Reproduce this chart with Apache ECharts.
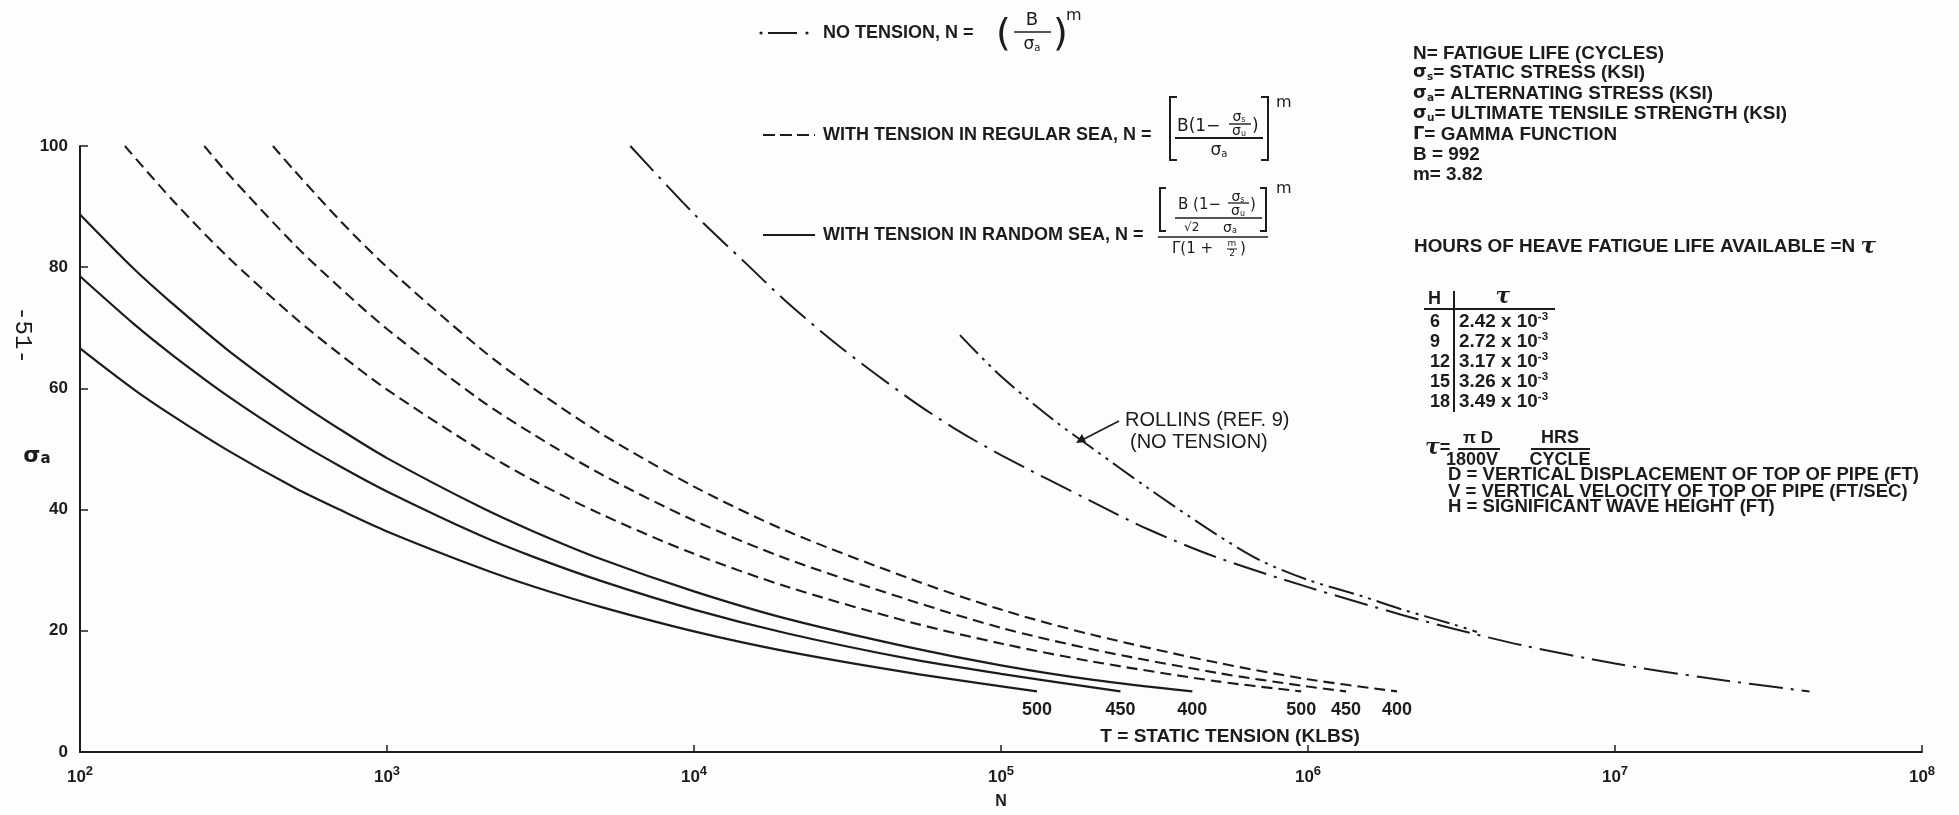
<!DOCTYPE html>
<html>
<head>
<meta charset="utf-8">
<script src="https://cdn.jsdelivr.net/npm/echarts@6/dist/echarts.min.js"></script>
<style>
html,body{margin:0;padding:0;background:#fdfdfb;}
#chart{width:1959px;height:815px;}
</style>
</head>
<body>
<div id="chart"></div>
<script>
// Heave fatigue life: alternating stress σa (ksi) against cycles to failure N.

// axis ticks
const xTickExponents = [2, 3, 4, 5, 6, 7, 8];
const yTicks = [0, 20, 40, 60, 80, 100];

// with tension in random sea (solid), static tension 400 / 450 / 500 klbs — [N, σa]
const randomSea400 = [[100,88.7],[150,79.7],[200,74.0],[300,66.5],[500,58.2],[700,53.3],[1000,48.5],[2000,40.5],[3000,36.4],[5000,31.8],[10000,26.5],[20000,22.0],[50000,17.3],[100000,14.3],[200000,11.9],[420000,10.0]];
const randomSea450 = [[100,78.5],[150,70.6],[200,65.5],[300,58.9],[500,51.5],[700,47.2],[1000,43.0],[2000,35.8],[3000,32.2],[5000,28.2],[10000,23.5],[20000,19.6],[50000,15.4],[100000,12.9],[245000,10.0]];
const randomSea500 = [[100,66.6],[150,59.8],[200,55.5],[300,49.9],[500,43.6],[700,40.0],[1000,36.4],[2000,30.4],[3000,27.3],[5000,23.9],[10000,19.9],[20000,16.6],[50000,13.1],[131000,10.0]];

// with tension in regular sea (dashed)
const regularSea400 = [[425,100],[500,95.9],[700,87.8],[1000,80.0],[2000,66.7],[3000,60.0],[5000,52.5],[10000,43.8],[20000,36.5],[50000,28.7],[100000,23.5],[200000,19.3],[500000,14.8],[1000000,12.0],[1950000,10.0]];
const regularSea450 = [[254,100],[300,95.7],[500,83.7],[700,76.7],[1000,69.8],[2000,58.2],[3000,52.4],[5000,45.8],[10000,38.2],[20000,31.9],[50000,25.1],[100000,20.5],[200000,16.9],[500000,13.1],[1000000,10.8],[1330000,10.0]];
const regularSea500 = [[140,100],[200,91.1],[300,81.9],[500,71.7],[700,65.7],[1000,59.8],[2000,49.9],[3000,44.8],[5000,39.2],[10000,32.7],[20000,27.3],[50000,21.5],[100000,17.9],[200000,14.9],[500000,11.7],[950000,10.0]];

// no tension (dash-dot) and Rollins, ref. 9 (dash-dot-dot)
const noTension = [[6200,100],[10000,88.8],[15000,80.3],[20000,74.3],[30000,66.8],[50000,58.4],[70000,53.5],[100000,49.0],[200000,41.2],[300000,36.8],[500000,32.2],[1000000,27.2],[2000000,22.7],[3000000,20.3],[5000000,17.6],[10000000,14.6],[20000000,12.2],[43000000,10.0]];
const rollins = [[73500,68.8],[100000,62.0],[150000,54.6],[200000,50.0],[300000,43.6],[500000,36.0],[700000,31.6],[1000000,28.4],[1500000,25.7],[2000000,23.6],[3000000,21.0],[3550000,19.8]];

// right-hand table
const waveHeights = ['6', '9', '12', '15', '18'];
const tauValues = ['2.42', '2.72', '3.17', '3.26', '3.49'];

const INK = '#1c1c1c';
const SANS = '"Liberation Sans", Arial, sans-serif';
const MATH = '"DejaVu Sans", sans-serif';

const solidStyle = { color: INK, width: 2.2, type: 'solid' };
const dashStyle = { color: INK, width: 2.1, type: [11, 6] };
const dashDotStyle = { color: INK, width: 2, type: [34, 8, 3, 8] };
const dashDotDotStyle = { color: INK, width: 2, type: [26, 6, 3, 6, 3, 6] };

const curves = [
  { name: 'Random sea 400', data: randomSea400, line: solidStyle, tension: '400' },
  { name: 'Random sea 450', data: randomSea450, line: solidStyle, tension: '450' },
  { name: 'Random sea 500', data: randomSea500, line: solidStyle, tension: '500' },
  { name: 'Regular sea 400', data: regularSea400, line: dashStyle, tension: '400' },
  { name: 'Regular sea 450', data: regularSea450, line: dashStyle, tension: '450' },
  { name: 'Regular sea 500', data: regularSea500, line: dashStyle, tension: '500' },
  { name: 'No tension', data: noTension, line: dashDotStyle },
  { name: 'Rollins', data: rollins, line: dashDotDotStyle }
];

const lineSeries = curves.map(c => ({
  name: c.name,
  type: 'line',
  data: c.data,
  smooth: 0.3,
  showSymbol: false,
  symbol: 'none',
  lineStyle: Object.assign({ cap: 'butt' }, c.line),
  emphasis: { disabled: true },
  z: 3
}));

// ---- drawing helpers for the annotation graphics ----
function txt(x, y, str, font, extra, sx) {
  const el = {
    type: 'text', x: x, y: y, silent: true, z: 10,
    style: Object.assign({ text: str, font: font, fill: INK, textAlign: 'left', textVerticalAlign: 'middle' }, extra || {})
  };
  if (sx) el.scaleX = sx;
  return el;
}
function seg(x1, y1, x2, y2, w, dash) {
  return {
    type: 'line', silent: true, z: 10,
    shape: { x1: x1, y1: y1, x2: x2, y2: y2 },
    style: { stroke: INK, lineWidth: w || 2, lineDash: dash || null, lineCap: 'butt' }
  };
}
function poly(points, w) {
  return { type: 'polyline', silent: true, z: 10, shape: { points: points }, style: { stroke: INK, lineWidth: w || 2, fill: null } };
}
function dot(cx, cy, r) {
  return { type: 'circle', silent: true, z: 10, shape: { cx: cx, cy: cy, r: r }, style: { fill: INK } };
}

const boldL = 'bold 18px ' + SANS;
const boldR = 'bold 18px ' + SANS;
const RSX = 1.05;
const greekRich = {
  g: { font: 'bold 17px ' + MATH, fill: INK },
  sb: { font: 'bold 10px ' + MATH, fill: INK, padding: [8, 0, 0, 0] },
  sup: { font: 'bold 11px ' + SANS, fill: INK, padding: [0, 0, 11, 0] },
  tau: { font: 'italic bold 22px "DejaVu Serif", serif', fill: INK }
};
const mathRich = {
  g: { font: '17px ' + MATH, fill: INK },
  gs: { font: '14px ' + MATH, fill: INK },
  sb: { font: '10px ' + MATH, fill: INK, padding: [7, 0, 0, 0] },
  sbs: { font: '8px ' + MATH, fill: INK, padding: [6, 0, 0, 0] }
};

const graphics = [];

// legend: no tension
graphics.push(dot(761, 33, 1.6), seg(768, 33, 797, 33, 2), dot(807, 33, 1.6));
graphics.push(txt(823, 33, 'NO TENSION, N =', boldL));
graphics.push(txt(996, 35, '(', '38px ' + MATH));
graphics.push(txt(1032, 20, 'B', '18px ' + MATH, { textAlign: 'center' }));
graphics.push(seg(1014, 32, 1051, 32, 1.6));
graphics.push(txt(1032, 45, '{g|σ}{sb|a}', '17px ' + MATH, { textAlign: 'center', rich: mathRich }));
graphics.push(txt(1053, 35, ')', '38px ' + MATH));
graphics.push(txt(1066, 16, 'm', '16px ' + MATH));

// legend: regular sea
graphics.push(seg(763, 135, 815, 135, 2, [12, 5]));
graphics.push(txt(823, 135, 'WITH TENSION IN REGULAR SEA, N =', boldL));
graphics.push(poly([[1177, 97], [1170, 97], [1170, 160], [1177, 160]], 2));
graphics.push(poly([[1261, 97], [1268, 97], [1268, 160], [1261, 160]], 2));
graphics.push(txt(1177, 127, 'B(1−', '17px ' + MATH));
graphics.push(txt(1239, 117, '{gs|σ}{sbs|s}', '14px ' + MATH, { textAlign: 'center', rich: mathRich }));
graphics.push(seg(1229, 124, 1251, 124, 1.4));
graphics.push(txt(1239, 131, '{gs|σ}{sbs|u}', '14px ' + MATH, { textAlign: 'center', rich: mathRich }));
graphics.push(txt(1252, 127, ')', '17px ' + MATH));
graphics.push(seg(1175, 138, 1263, 138, 1.8));
graphics.push(txt(1219, 151, '{g|σ}{sb|a}', '17px ' + MATH, { textAlign: 'center', rich: mathRich }));
graphics.push(txt(1276, 103, 'm', '16px ' + MATH));

// legend: random sea
graphics.push(seg(763, 235, 815, 235, 2.2));
graphics.push(txt(823, 235, 'WITH TENSION IN RANDOM SEA, N =', boldL));
graphics.push(poly([[1166, 188], [1160, 188], [1160, 231], [1166, 231]], 2));
graphics.push(poly([[1260, 188], [1266, 188], [1266, 231], [1260, 231]], 2));
graphics.push(txt(1178, 205, 'B (1−', '15px ' + MATH));
graphics.push(txt(1238, 197, '{gs|σ}{sbs|s}', '13px ' + MATH, { textAlign: 'center', rich: mathRich }));
graphics.push(seg(1228, 203, 1249, 203, 1.3));
graphics.push(txt(1238, 211, '{gs|σ}{sbs|u}', '13px ' + MATH, { textAlign: 'center', rich: mathRich }));
graphics.push(txt(1250, 205, ')', '15px ' + MATH));
graphics.push(seg(1175, 218, 1262, 218, 1.5));
graphics.push(txt(1184, 228, '√2', '12px ' + MATH));
graphics.push(txt(1230, 228, '{gs|σ}{sbs|a}', '14px ' + MATH, { textAlign: 'center', rich: mathRich }));
graphics.push(seg(1158, 237, 1268, 237, 1.6));
graphics.push(txt(1172, 249, 'Γ(1 +', '15px ' + MATH));
graphics.push(txt(1232, 244, 'm', '9px ' + MATH, { textAlign: 'center' }));
graphics.push(seg(1227, 249, 1237, 249, 1));
graphics.push(txt(1232, 254, '2', '9px ' + MATH, { textAlign: 'center' }));
graphics.push(txt(1240, 249, ')', '15px ' + MATH));
graphics.push(txt(1276, 189, 'm', '16px ' + MATH));

// symbol definitions
const defs = [
  [54, 'N= FATIGUE LIFE (CYCLES)'],
  [73, '{g|σ}{sb|s}= STATIC STRESS (KSI)'],
  [94, '{g|σ}{sb|a}= ALTERNATING STRESS (KSI)'],
  [114, '{g|σ}{sb|u}= ULTIMATE TENSILE STRENGTH (KSI)'],
  [135, '{g|Γ}= GAMMA FUNCTION'],
  [155, 'B = 992'],
  [175, 'm= 3.82']
];
defs.forEach(d => graphics.push(txt(1413, d[0], d[1], boldR, { rich: greekRich }, RSX)));
graphics.push(txt(1414, 247, 'HOURS OF HEAVE FATIGUE LIFE AVAILABLE =N {tau|τ}', boldR, { rich: greekRich }, RSX));

// τ table
graphics.push(txt(1428, 299, 'H', boldR));
graphics.push(txt(1503, 297, '{tau|τ}', boldR, { textAlign: 'center', rich: greekRich }));
graphics.push(seg(1424, 309, 1555, 309, 2));
graphics.push(seg(1454, 291, 1454, 412, 2));
waveHeights.forEach((h, i) => {
  const y = 322 + i * 20;
  graphics.push(txt(1430, y, h, boldR));
  graphics.push(txt(1459, y, tauValues[i] + ' x 10{sup|-3}', boldR, { rich: greekRich }, RSX));
});

// τ definition
graphics.push(txt(1425, 448, '{tau|τ}=', boldR, { rich: greekRich }));
graphics.push(txt(1478, 438, 'π D', 'bold 17px ' + SANS, { textAlign: 'center' }));
graphics.push(seg(1458, 449, 1500, 449, 2));
graphics.push(txt(1472, 460, '1800V', boldR, { textAlign: 'center' }));
graphics.push(txt(1560, 438, 'HRS', boldR, { textAlign: 'center' }));
graphics.push(seg(1531, 449, 1590, 449, 2));
graphics.push(txt(1560, 460, 'CYCLE', boldR, { textAlign: 'center' }));

graphics.push(txt(1448, 475, 'D = VERTICAL DISPLACEMENT OF TOP OF PIPE (FT)', boldR, null, 1.03));
graphics.push(txt(1448, 492, 'V = VERTICAL VELOCITY OF TOP OF PIPE (FT/SEC)', boldR, null, 1.03));
graphics.push(txt(1448, 507, 'H = SIGNIFICANT WAVE HEIGHT (FT)', boldR, null, 1.03));

// Rollins call-out
graphics.push(txt(1125, 420, 'ROLLINS (REF. 9)', '20px ' + SANS));
graphics.push(txt(1130, 442, '(NO TENSION)', '20px ' + SANS));
graphics.push(seg(1119, 421, 1082, 440, 1.6));
graphics.push({ type: 'polygon', silent: true, z: 10, shape: { points: [[1076, 443], [1086, 442], [1082, 434]] }, style: { fill: INK } });

// static tension caption
graphics.push(txt(1230, 737, 'T = STATIC TENSION (KLBS)', 'bold 18px ' + SANS, { textAlign: 'center' }, 1.06));

// y-axis title and page number
graphics.push(txt(37, 456, '{g|σ}{s|a}', 'bold 22px ' + MATH, {
  textAlign: 'center',
  rich: { g: { font: 'bold 22px ' + MATH, fill: INK }, s: { font: 'bold 15px ' + MATH, fill: INK, padding: [6, 0, 0, 0] } }
}));
graphics.push(Object.assign(txt(22, 335, '-51-', '24px "Liberation Mono", monospace', { textAlign: 'center' }), { rotation: -Math.PI / 2 }));

const option = {
  backgroundColor: '#fdfdfb',
  animation: false,
  grid: { left: 80, right: 37, top: 146, bottom: 57, containLabel: false },
  xAxis: {
    type: 'log',
    logBase: 10,
    min: Math.pow(10, xTickExponents[0]),
    max: Math.pow(10, xTickExponents[xTickExponents.length - 1]),
    name: 'N',
    nameLocation: 'middle',
    nameGap: 42,
    nameTextStyle: { color: INK, fontFamily: SANS, fontWeight: 'bold', fontSize: 16 },
    axisLine: { lineStyle: { color: INK, width: 2 } },
    axisTick: { inside: true, length: 7, lineStyle: { color: INK, width: 1.5 } },
    splitLine: { show: false },
    minorTick: { show: false },
    axisLabel: {
      margin: 13,
      formatter: v => {
        const e = Math.round(Math.log10(v));
        return xTickExponents.indexOf(e) >= 0 ? '{b|10}{s|' + e + '}' : '';
      },
      rich: {
        b: { fontSize: 17, fontWeight: 'bold', fontFamily: SANS, color: INK },
        s: { fontSize: 13, fontWeight: 'bold', fontFamily: SANS, color: INK, padding: [0, 0, 12, 0] }
      }
    }
  },
  yAxis: {
    type: 'value',
    min: yTicks[0],
    max: yTicks[yTicks.length - 1],
    interval: yTicks[1] - yTicks[0],
    axisLine: { show: true, lineStyle: { color: INK, width: 2 } },
    axisTick: { show: true, inside: true, length: 8, lineStyle: { color: INK, width: 1.5 } },
    splitLine: { show: false },
    axisLabel: { margin: 12, color: INK, fontFamily: SANS, fontWeight: 'bold', fontSize: 17 }
  },
  series: lineSeries
};

const chart = echarts.init(document.getElementById('chart'));
chart.setOption(option);

// tension values written under the end of each tension curve
curves.filter(c => c.tension).forEach(c => {
  const last = c.data[c.data.length - 1];
  const p = chart.convertToPixel({ gridIndex: 0 }, last);
  graphics.push(txt(p[0], p[1] + 19, c.tension, 'bold 18px ' + SANS, { textAlign: 'center' }));
});
chart.setOption({ graphic: { elements: graphics } });
</script>
</body>
</html>
